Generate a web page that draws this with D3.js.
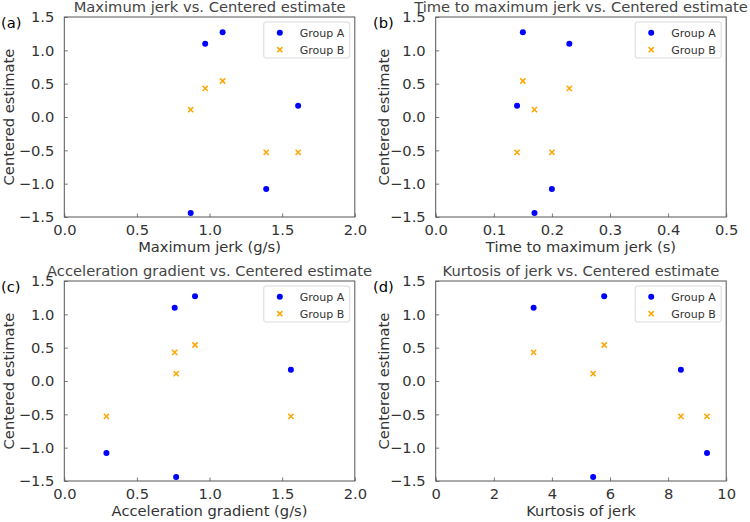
<!DOCTYPE html>
<html>
<head>
<meta charset="utf-8">
<script src="https://cdn.jsdelivr.net/npm/d3@7"></script>
<style>
  body { margin: 0; background: #fff; }
  svg { font-family: "DejaVu Sans", sans-serif; }
</style>
</head>
<body>
<svg id="chart" width="750" height="522"></svg>
<script>
// values, one entry per subject
const groups = ["Group A", "Group B"];
const estimateA = [-1.44, 1.10, 1.27, -1.08, 0.17];
const estimateB = [0.11, 0.43, 0.54, -0.53, -0.53];
const maxJerk = [0.87, 0.97, 1.09, 1.39, 1.61];
const timeToMaxJerk = [0.17, 0.23, 0.15, 0.20, 0.14];
const accelGradient = [0.77, 0.76, 0.90, 0.29, 1.56];
const kurtosisJerk = [5.42, 3.37, 5.80, 9.34, 8.44];
const yTicks = [-1.5, -1.0, -0.5, 0.0, 0.5, 1.0, 1.5];

const panels = [
  { tag: "(a)", title: "Maximum jerk vs. Centered estimate", xLabel: "Maximum jerk (g/s)",
    x: maxJerk, xDomain: [0, 2], xTicks: [0, 0.5, 1.0, 1.5, 2.0], fmt: ".1f", left: 64.3, top: 17, edge: 0 },
  { tag: "(b)", title: "Time to maximum jerk vs. Centered estimate", xLabel: "Time to maximum jerk (s)",
    x: timeToMaxJerk, xDomain: [0, 0.5], xTicks: [0, 0.1, 0.2, 0.3, 0.4, 0.5], fmt: ".1f", left: 435.7, top: 17, edge: 372 },
  { tag: "(c)", title: "Acceleration gradient vs. Centered estimate", xLabel: "Acceleration gradient (g/s)",
    x: accelGradient, xDomain: [0, 2], xTicks: [0, 0.5, 1.0, 1.5, 2.0], fmt: ".1f", left: 64.3, top: 281, edge: 0 },
  { tag: "(d)", title: "Kurtosis of jerk vs. Centered estimate", xLabel: "Kurtosis of jerk",
    x: kurtosisJerk, xDomain: [0, 10], xTicks: [0, 2, 4, 6, 8, 10], fmt: "d", left: 435.7, top: 281, edge: 372 }
];

const svg = d3.select("#chart");
const w = 290.5, h = 200;
const colorA = "#0000ff", colorB = "#ffa500";
const textColor = "#333";
const fontSize = "14.7px";

panels.forEach(p => {
  const g = svg.append("g").attr("transform", `translate(${p.left},${p.top})`);

  const xScale = d3.scaleLinear().domain(p.xDomain).range([0, w]);
  const yScale = d3.scaleLinear().domain([-1.5, 1.5]).range([h, 0]);

  const xAxis = d3.axisBottom(xScale).tickValues(p.xTicks)
    .tickFormat(d3.format(p.fmt)).tickSizeInner(-3.5).tickSizeOuter(0).tickPadding(7.5);
  const yAxis = d3.axisLeft(yScale).tickValues(yTicks)
    .tickFormat(d3.format(".1f")).tickSizeInner(-3.5).tickSizeOuter(0).tickPadding(10);

  const gx = g.append("g").attr("transform", `translate(0,${h})`).call(xAxis);
  const gy = g.append("g").call(yAxis);
  [gx, gy].forEach(a => {
    a.select(".domain").remove();
    a.selectAll(".tick line").attr("stroke", "#777");
    a.selectAll(".tick text").attr("fill", textColor)
      .style("font-size", fontSize).style("font-family", "DejaVu Sans");
  });

  // frame
  g.append("rect")
    .attr("width", w).attr("height", h)
    .attr("fill", "none").attr("stroke", "#555").attr("stroke-width", 1);

  // Group A dots
  g.selectAll(".dotA")
    .data(p.x.map((v, i) => ({ x: v, y: estimateA[i] })))
    .enter().append("circle")
    .attr("cx", d => xScale(d.x))
    .attr("cy", d => yScale(d.y))
    .attr("r", 3)
    .attr("fill", colorA);

  // Group B crosses
  g.selectAll(".dotB")
    .data(p.x.map((v, i) => ({ x: v, y: estimateB[i] })))
    .enter().append("path")
    .attr("d", d => {
      const cx = xScale(d.x), cy = yScale(d.y), s = 2.6;
      return `M${cx - s},${cy - s}L${cx + s},${cy + s}M${cx - s},${cy + s}L${cx + s},${cy - s}`;
    })
    .attr("stroke", colorB).attr("stroke-width", 1.5).attr("fill", "none");

  // title, labels
  g.append("text")
    .attr("x", w / 2).attr("y", -5)
    .attr("text-anchor", "middle")
    .attr("fill", "#444")
    .style("font-size", fontSize)
    .text(p.title);

  g.append("text")
    .attr("x", p.edge + 1 - p.left)
    .attr("y", 11)
    .attr("fill", "#000")
    .style("font-size", fontSize)
    .text(p.tag);

  g.append("text")
    .attr("x", w / 2).attr("y", h + 35)
    .attr("text-anchor", "middle")
    .attr("fill", textColor)
    .style("font-size", fontSize)
    .text(p.xLabel);

  g.append("text")
    .attr("transform", `translate(${p.edge + (p.edge ? 17 : 14) - p.left},${h / 2}) rotate(-90)`)
    .attr("text-anchor", "middle")
    .attr("fill", textColor)
    .style("font-size", fontSize)
    .text("Centered estimate");

  // legend
  const lg = g.append("g").attr("transform", `translate(${w - 91},5)`);
  lg.append("rect")
    .attr("width", 86).attr("height", 36).attr("rx", 2)
    .attr("fill", "#fff").attr("fill-opacity", 0.8)
    .attr("stroke", "#d9d9d9");
  lg.append("circle").attr("cx", 16).attr("cy", 10.7).attr("r", 3).attr("fill", colorA);
  lg.append("path")
    .attr("d", "M13.4,25.1L18.6,30.3M13.4,30.3L18.6,25.1")
    .attr("stroke", colorB).attr("stroke-width", 1.5);
  lg.selectAll(".legend-label")
    .data(groups)
    .enter().append("text")
    .attr("x", 36)
    .attr("y", (d, i) => 10.7 + i * 17)
    .attr("dy", "0.35em")
    .attr("fill", textColor)
    .style("font-size", "11px")
    .text(d => d);
});
</script>
</body>
</html>
